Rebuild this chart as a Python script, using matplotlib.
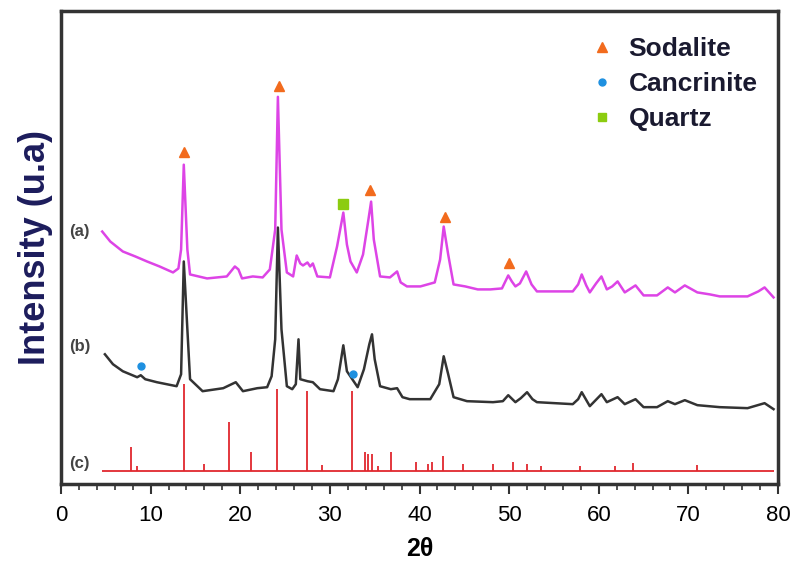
import matplotlib.pyplot as plt
from matplotlib.lines import Line2D
from matplotlib.ticker import MultipleLocator

plt.rcParams['font.family'] = ['Liberation Sans', 'DejaVu Sans']

# pattern (a) - magenta
x_a = [4.6, 5.5, 6.9, 8.3, 9.6, 11.0, 12.5, 13.1, 13.4, 13.7, 14.1, 14.4, 16.3, 18.5, 19.4, 19.8, 20.2,
       21.4, 22.5, 23.3, 23.9, 24.2, 24.6, 25.2, 25.9, 26.3, 26.7, 27.0, 27.5, 27.8, 28.1,
       28.6, 30.0, 30.8, 31.5, 31.9, 32.3, 33.0, 33.7, 34.3, 34.6, 34.9, 35.6, 36.7, 37.5,
       37.9, 38.6, 40.1, 41.7, 42.3, 42.7, 43.2, 43.8, 45.1, 46.5, 47.9, 49.2, 49.9, 50.3,
       50.7, 51.2, 51.9, 52.5, 53.1, 55.1, 57.1, 57.7, 58.1, 58.6, 59.0, 59.7, 60.3, 60.9,
       61.5, 62.1, 62.9, 64.1, 65.0, 66.5, 67.7, 68.5, 69.6, 71.0, 72.4, 73.5, 76.6, 77.8,
       78.5, 79.5]
y_a = [253, 243, 233, 228, 223, 218, 212, 216, 235, 320, 235, 210, 206, 208, 218, 215, 206,
       208, 207, 215, 255, 388, 255, 212, 208, 229, 221, 219, 222, 218, 221,
       208, 207, 238, 272, 240, 223, 212, 230, 265, 283, 245, 208, 207, 213,
       202, 198, 198, 202, 225, 258, 230, 200, 198, 195, 195, 196, 209, 203,
       198, 201, 213, 200, 193, 193, 193, 200, 210, 199, 192, 201, 208, 195,
       198, 203, 192, 199, 189, 189, 197, 192, 199, 192, 190, 188, 188, 193,
       197, 187]

# pattern (b) - black
x_b = [4.9, 5.8, 6.9, 8.5, 8.9, 9.4, 10.7, 12.9, 13.4, 13.7, 14.1, 14.4, 15.8, 18.1, 19.5,
       20.3, 21.9, 23.0, 23.5, 23.9, 24.2, 24.6, 25.2, 25.8, 26.2, 26.5, 26.7, 27.5, 28.1,
       28.9, 30.4, 30.9, 31.5, 31.9, 32.5, 33.1, 33.8, 34.4, 34.7, 35.0, 35.6, 36.8, 37.5,
       38.1, 38.9, 41.2, 42.2, 42.7, 43.2, 43.8, 45.3, 48.2, 49.3, 49.9, 50.7, 51.3, 52.0,
       52.6, 53.1, 57.1, 57.7, 58.1, 59.0, 60.3, 60.9, 62.1, 62.9, 64.1, 65.0, 66.5, 67.7,
       68.5, 69.6, 71.0, 73.5, 76.6, 78.5, 79.5]
y_b = [130, 120, 113, 107, 109, 105, 102, 98, 110, 223, 155, 105, 93, 96, 102,
       93, 96, 97, 108, 145, 257, 155, 98, 95, 100, 145, 105, 103, 102,
       95, 93, 105, 139, 113, 105, 97, 115, 140, 150, 125, 98, 95, 96,
       87, 85, 85, 100, 128, 110, 87, 83, 82, 83, 89, 82, 86, 92,
       85, 82, 80, 85, 92, 78, 90, 82, 87, 80, 85, 77, 77, 83,
       80, 84, 79, 77, 76, 81, 75]

# pattern (c) - reference sticks
c_base = 13
c_range = [4.6, 79.5]
x_c = [7.8, 8.5, 13.7, 16.0, 18.8, 21.2, 24.1, 27.4, 29.1, 32.5, 33.9, 34.2, 34.7, 35.4,
       36.8, 39.6, 41.0, 41.4, 42.6, 44.8, 48.2, 50.4, 52.0, 53.5, 57.9, 61.8, 63.8, 71.0]
y_c = [37, 18, 100, 20, 62, 32, 95, 93, 19, 93, 32, 30, 30, 18,
       32, 22, 20, 22, 28, 20, 20, 22, 20, 18, 18, 18, 21, 19]

# phase markers
sod_x = [13.7, 24.3, 34.5, 42.9, 50.0]
sod_y = [333, 399, 295, 268, 221]
qtz_x = [31.5]
qtz_y = [281]
can_x = [8.9, 32.6]
can_y = [118, 110]

labels = ['(a)', '(b)', '(c)']
label_y = [253, 138, 21]

c_mag = '#dd44e6'
c_blk = '#333333'
c_red = '#e0282e'
c_tri = '#f26b1d'
c_dot = '#1e90e0'
c_sq = '#8ccc10'

fig = plt.figure(figsize=(7.91, 5.62), dpi=100)
ax = fig.add_axes([0.0771, 0.1388, 0.9065, 0.8416])

ax.hlines(c_base, c_range[0], c_range[1], color=c_red, lw=1.3)
ax.vlines(x_c, c_base, y_c, color=c_red, lw=1.3)
ax.plot(x_b, y_b, color=c_blk, lw=1.8)
ax.plot(x_a, y_a, color=c_mag, lw=1.8)

ax.plot(sod_x, sod_y, '^', color=c_tri, ms=7, ls='none')
ax.plot(qtz_x, qtz_y, 's', color=c_sq, ms=7, ls='none')
ax.plot(can_x, can_y, 'o', color=c_dot, ms=5, ls='none')

for lab, yy in zip(labels, label_y):
    ax.text(2.1, yy, lab, ha='center', va='center', fontsize=12,
            fontweight='bold', color='#444444')

ax.set_xlim(0, 80)
ax.set_ylim(0, 474)
ax.set_yticks([])
ax.xaxis.set_major_locator(MultipleLocator(10))
ax.xaxis.set_minor_locator(MultipleLocator(2))
ax.tick_params(axis='x', which='major', direction='out', length=7, width=1.5,
               labelsize=16, pad=8, color='#333333')
ax.tick_params(axis='x', which='minor', direction='out', length=4, width=1.2,
               color='#333333')
for sp in ax.spines.values():
    sp.set_linewidth(2.5)
    sp.set_color('#333333')

ax.set_xlabel('2θ', fontsize=18, fontweight='bold', labelpad=8)
ax.set_ylabel('Intensity (u.a)', fontsize=26, fontweight='bold',
              color='#1c1c5c', labelpad=6)

handles = [
    Line2D([], [], marker='^', color=c_tri, ls='none', ms=7),
    Line2D([], [], marker='o', color=c_dot, ls='none', ms=5),
    Line2D([], [], marker='s', color=c_sq, ls='none', ms=6),
]
leg = ax.legend(handles, ['Sodalite', 'Cancrinite', 'Quartz'], loc='upper left',
                bbox_to_anchor=(0.703, 0.995), frameon=False,
                prop={'size': 19, 'weight': 'bold'}, handlelength=1.0,
                handletextpad=0.5, labelspacing=0.42)
for t in leg.get_texts():
    t.set_color('#1a1a30')

fig.savefig('out.png', dpi=100)
